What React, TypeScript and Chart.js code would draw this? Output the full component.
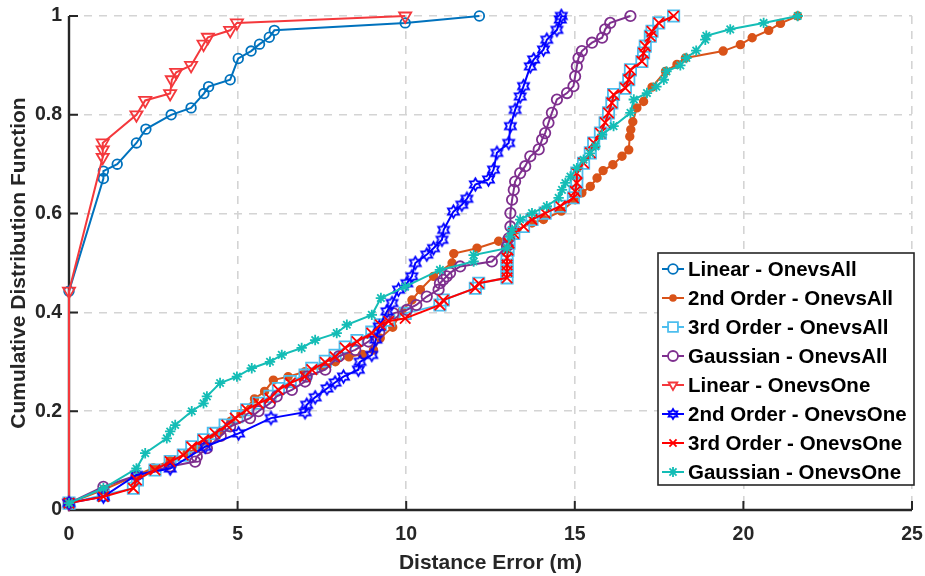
import React, { useEffect, useRef } from 'react';
import { Chart, registerables } from 'chart.js';

Chart.register(...registerables);

// ---------- data ----------
const xTicks = [0, 5, 10, 15, 20, 25];
const yTicks = [0, 0.2, 0.4, 0.6, 0.8, 1];
const xTitle = 'Distance Error (m)';
const yTitle = 'Cumulative Distribution Function';

const seriesLabels = [
  'Linear - OnevsAll',
  '2nd Order - OnevsAll',
  '3rd Order - OnevsAll',
  'Gaussian - OnevsAll',
  'Linear - OnevsOne',
  '2nd Order - OnevsOne',
  '3rd Order - OnevsOne',
  'Gaussian - OnevsOne',
];

const linOvA_x = [0, 0, 1.02, 1.02, 1.43, 2.0, 2.28, 3.03, 3.62, 4.0, 4.14, 4.78, 5.02, 5.4, 5.65, 5.94, 6.09, 9.97, 12.17];
const linOvA_y = [0.014, 0.443, 0.671, 0.686, 0.7, 0.743, 0.771, 0.8, 0.814, 0.843, 0.857, 0.871, 0.914, 0.929, 0.943, 0.957, 0.971, 0.986, 1.0];

const o2OvA_x = [0, 1.02, 2.0, 2.5, 3.0, 3.5, 3.8, 4.1, 4.5, 4.8, 5.1, 5.5, 5.8, 6.06, 6.5, 7.0, 7.5, 7.9, 8.3, 8.7, 9.03, 9.23, 9.6, 9.87, 10.17, 10.42, 10.81, 11.36, 11.41, 12.1, 12.74, 13.28, 13.73, 14.07, 14.6, 15.01, 15.21, 15.46, 15.66, 15.84, 16.13, 16.4, 16.6, 16.63, 16.66, 16.72, 16.84, 17.04, 17.29, 17.69, 18.03, 18.28, 19.4, 19.91, 20.26, 20.75, 21.1, 21.61];
const o2OvA_y = [0.014, 0.041, 0.07, 0.085, 0.1, 0.115, 0.125, 0.14, 0.16, 0.18, 0.195, 0.225, 0.24, 0.263, 0.27, 0.28, 0.29, 0.3, 0.31, 0.315, 0.324, 0.348, 0.37, 0.402, 0.425, 0.446, 0.473, 0.5, 0.519, 0.53, 0.544, 0.567, 0.581, 0.588, 0.605, 0.628, 0.642, 0.655, 0.672, 0.687, 0.699, 0.716, 0.729, 0.756, 0.77, 0.786, 0.814, 0.827, 0.856, 0.888, 0.902, 0.915, 0.929, 0.942, 0.956, 0.971, 0.985, 1.0];

const o3OvA_x = [0, 1.02, 1.91, 2.03, 2.55, 3.0, 3.39, 3.64, 3.99, 4.28, 4.63, 4.98, 5.27, 5.62, 5.96, 6.21, 6.56, 7.0, 7.2, 7.6, 7.89, 8.19, 8.54, 8.98, 9.23, 9.48, 9.97, 11.0, 11.1, 12.05, 12.15, 12.99, 12.99, 12.99, 12.99, 13.02, 13.05, 13.19, 13.48, 13.73, 14.12, 14.57, 14.96, 15.01, 15.06, 15.06, 15.26, 15.46, 15.56, 15.76, 15.9, 16.0, 16.1, 16.15, 16.5, 16.6, 16.65, 16.99, 17.04, 17.09, 17.24, 17.29, 17.49, 17.93];
const o3OvA_y = [0.014, 0.03, 0.044, 0.061, 0.081, 0.098, 0.111, 0.128, 0.142, 0.155, 0.172, 0.189, 0.203, 0.216, 0.23, 0.246, 0.26, 0.273, 0.287, 0.301, 0.313, 0.33, 0.343, 0.36, 0.375, 0.384, 0.398, 0.415, 0.425, 0.449, 0.459, 0.47, 0.483, 0.496, 0.51, 0.526, 0.54, 0.56, 0.574, 0.588, 0.601, 0.615, 0.632, 0.645, 0.662, 0.682, 0.702, 0.723, 0.743, 0.763, 0.784, 0.804, 0.824, 0.841, 0.854, 0.871, 0.891, 0.908, 0.925, 0.939, 0.959, 0.969, 0.986, 1.0];

const gaussOvA_x = [0, 1.02, 2.0, 3.0, 3.74, 3.79, 4.09, 4.5, 4.78, 5.37, 5.62, 5.96, 6.16, 6.61, 7.0, 7.05, 7.6, 8.0, 8.49, 8.88, 9.2, 9.62, 10.02, 10.3, 10.61, 10.96, 11.0, 11.1, 11.2, 11.3, 11.6, 12.54, 12.99, 13.04, 13.09, 13.09, 13.14, 13.19, 13.23, 13.38, 13.53, 13.68, 13.93, 14.03, 14.12, 14.22, 14.32, 14.47, 14.77, 14.96, 15.01, 15.06, 15.11, 15.21, 15.51, 15.81, 15.9, 16.05, 16.65];
const gaussOvA_y = [0.014, 0.047, 0.07, 0.088, 0.098, 0.108, 0.125, 0.15, 0.169, 0.186, 0.2, 0.216, 0.23, 0.243, 0.26, 0.27, 0.284, 0.311, 0.324, 0.341, 0.36, 0.398, 0.405, 0.415, 0.432, 0.446, 0.459, 0.466, 0.473, 0.48, 0.493, 0.503, 0.534, 0.55, 0.574, 0.601, 0.628, 0.648, 0.665, 0.682, 0.696, 0.716, 0.73, 0.75, 0.763, 0.784, 0.804, 0.831, 0.844, 0.858, 0.878, 0.898, 0.915, 0.929, 0.946, 0.956, 0.973, 0.986, 1.0];

const linOvO_x = [0, 0, 1.0, 1.0, 1.0, 2.0, 2.26, 3.0, 3.05, 3.18, 3.62, 3.99, 4.12, 4.78, 4.98, 9.97];
const linOvO_y = [0.014, 0.443, 0.714, 0.729, 0.743, 0.8, 0.829, 0.843, 0.871, 0.886, 0.9, 0.943, 0.957, 0.971, 0.986, 1.0];

const o2OvO_x = [0, 1.02, 2.0, 3.0, 4.04, 5.03, 5.99, 7.0, 7.05, 7.3, 7.65, 7.89, 8.14, 8.58, 8.63, 8.98, 9.1, 9.2, 9.43, 9.58, 9.77, 10.02, 10.17, 10.27, 10.61, 10.81, 11.06, 11.11, 11.4, 11.65, 11.8, 12.05, 12.44, 12.59, 12.69, 13.04, 13.09, 13.23, 13.38, 13.48, 13.68, 13.78, 14.07, 14.17, 14.47, 14.57, 14.6];
const o2OvO_y = [0.014, 0.027, 0.071, 0.084, 0.128, 0.155, 0.186, 0.198, 0.213, 0.228, 0.246, 0.258, 0.27, 0.284, 0.3, 0.314, 0.345, 0.371, 0.402, 0.419, 0.446, 0.459, 0.473, 0.5, 0.517, 0.53, 0.547, 0.567, 0.604, 0.618, 0.63, 0.659, 0.669, 0.689, 0.723, 0.743, 0.777, 0.81, 0.837, 0.858, 0.898, 0.912, 0.932, 0.952, 0.972, 0.993, 1.0];

const o3OvO_x = [0, 1.02, 1.91, 2.0, 2.55, 3.0, 3.39, 3.64, 3.99, 4.33, 4.68, 4.93, 5.27, 5.62, 5.96, 6.21, 6.56, 7.0, 7.2, 7.6, 7.89, 8.19, 8.54, 8.98, 9.23, 9.48, 9.97, 11.0, 11.1, 12.05, 12.15, 12.99, 12.99, 12.99, 12.99, 13.02, 13.05, 13.19, 13.48, 13.73, 14.12, 14.57, 14.96, 15.01, 15.06, 15.06, 15.26, 15.46, 15.56, 15.76, 15.9, 16.0, 16.1, 16.15, 16.5, 16.6, 16.65, 16.99, 17.04, 17.09, 17.24, 17.29, 17.49, 17.93];
const o3OvO_y = [0.014, 0.027, 0.044, 0.061, 0.081, 0.098, 0.111, 0.128, 0.142, 0.155, 0.172, 0.186, 0.203, 0.216, 0.226, 0.243, 0.257, 0.27, 0.284, 0.299, 0.31, 0.328, 0.341, 0.358, 0.375, 0.382, 0.388, 0.415, 0.425, 0.449, 0.459, 0.47, 0.483, 0.496, 0.51, 0.526, 0.54, 0.56, 0.574, 0.588, 0.601, 0.615, 0.632, 0.645, 0.662, 0.682, 0.702, 0.723, 0.743, 0.763, 0.784, 0.804, 0.824, 0.841, 0.854, 0.871, 0.891, 0.908, 0.925, 0.939, 0.959, 0.969, 0.986, 1.0];

const gaussOvO_x = [0, 1.02, 2.0, 2.26, 2.9, 3.0, 3.15, 3.64, 3.99, 4.09, 4.48, 4.98, 5.42, 5.96, 6.31, 6.9, 7.3, 7.94, 8.24, 8.98, 9.25, 9.97, 11.0, 12.0, 12.0, 12.99, 13.09, 13.14, 13.38, 13.73, 14.17, 14.52, 14.62, 14.72, 14.87, 15.06, 15.26, 15.45, 15.61, 15.81, 16.15, 16.65, 16.75, 17.14, 17.42, 17.64, 17.72, 18.13, 18.31, 18.6, 18.87, 18.9, 19.61, 20.6, 21.61];
const gaussOvO_y = [0.014, 0.044, 0.084, 0.115, 0.145, 0.159, 0.172, 0.2, 0.216, 0.23, 0.257, 0.27, 0.287, 0.3, 0.314, 0.328, 0.344, 0.358, 0.375, 0.395, 0.429, 0.452, 0.486, 0.503, 0.516, 0.53, 0.554, 0.567, 0.588, 0.601, 0.615, 0.632, 0.648, 0.662, 0.675, 0.692, 0.709, 0.722, 0.736, 0.76, 0.777, 0.804, 0.831, 0.844, 0.857, 0.871, 0.888, 0.9, 0.915, 0.93, 0.952, 0.96, 0.973, 0.986, 1.0];

const seriesX = [linOvA_x, o2OvA_x, o3OvA_x, gaussOvA_x, linOvO_x, o2OvO_x, o3OvO_x, gaussOvO_x];
const seriesY = [linOvA_y, o2OvA_y, o3OvA_y, gaussOvA_y, linOvO_y, o2OvO_y, o3OvO_y, gaussOvO_y];

// ---------- styles ----------
const seriesStyle = [
  { color: '#0072BD', marker: 'circle', r: 4.8, fill: false },
  { color: '#D95319', marker: 'dot', r: 3.8, fill: true },
  { color: '#4DBEEE', marker: 'square', r: 8, fill: false },
  { color: '#7E2F8E', marker: 'circle', r: 5.2, fill: false },
  { color: '#F4383C', marker: 'tridown', r: 7, fill: false },
  { color: '#0000FF', marker: 'hexagram', r: 6.3, fill: false },
  { color: '#FF0000', marker: 'x', r: 7.4, fill: false },
  { color: '#14BDB6', marker: 'star', r: 5.2, fill: false },
];

const FONT = "'Liberation Sans', Arial, Helvetica, sans-serif";
const AXIS_COLOR = '#262626';

function makeHexagram(color: string, r: number): HTMLCanvasElement {
  const size = Math.ceil(r * 2 + 4);
  const c = document.createElement('canvas');
  c.width = size;
  c.height = size;
  const g = c.getContext('2d')!;
  const cx = size / 2, cy = size / 2;
  const inner = r / Math.sqrt(3);
  g.beginPath();
  for (let i = 0; i < 12; i++) {
    const ang = -Math.PI / 2 + (i * Math.PI) / 6;
    const rr = i % 2 === 0 ? r : inner;
    const px = cx + Math.cos(ang) * rr;
    const py = cy + Math.sin(ang) * rr;
    if (i === 0) g.moveTo(px, py); else g.lineTo(px, py);
  }
  g.closePath();
  g.strokeStyle = color;
  g.lineWidth = 1.8;
  g.stroke();
  return c;
}

function drawMarker(ctx: CanvasRenderingContext2D, st: any, x: number, y: number, hex: HTMLCanvasElement) {
  const r = st.r;
  ctx.save();
  ctx.strokeStyle = st.color;
  ctx.fillStyle = st.color;
  ctx.lineWidth = 1.8;
  ctx.beginPath();
  switch (st.marker) {
    case 'circle':
      ctx.arc(x, y, r, 0, Math.PI * 2);
      ctx.fillStyle = '#fff';
      ctx.fill();
      ctx.stroke();
      break;
    case 'dot':
      ctx.arc(x, y, r, 0, Math.PI * 2);
      ctx.fill();
      break;
    case 'square': {
      const s = r * Math.SQRT1_2;
      ctx.rect(x - s, y - s, 2 * s, 2 * s);
      ctx.fillStyle = '#fff';
      ctx.fill();
      ctx.stroke();
      break;
    }
    case 'tridown': {
      for (let i = 0; i < 3; i++) {
        const a = Math.PI + (i * 2 * Math.PI) / 3;
        const px = x + Math.sin(a) * r;
        const py = y - Math.cos(a) * r;
        if (i === 0) ctx.moveTo(px, py); else ctx.lineTo(px, py);
      }
      ctx.closePath();
      ctx.fillStyle = '#fff';
      ctx.fill();
      ctx.stroke();
      break;
    }
    case 'x': {
      const d = r * Math.SQRT1_2;
      ctx.moveTo(x - d, y - d); ctx.lineTo(x + d, y + d);
      ctx.moveTo(x - d, y + d); ctx.lineTo(x + d, y - d);
      ctx.stroke();
      break;
    }
    case 'star': {
      const d = r * Math.SQRT1_2;
      ctx.moveTo(x - d, y - d); ctx.lineTo(x + d, y + d);
      ctx.moveTo(x - d, y + d); ctx.lineTo(x + d, y - d);
      ctx.moveTo(x, y - r); ctx.lineTo(x, y + r);
      ctx.stroke();
      break;
    }
    case 'hexagram':
      ctx.drawImage(hex, x - hex.width / 2, y - hex.height / 2);
      break;
  }
  ctx.restore();
}

export default function App() {
  const ref = useRef<HTMLCanvasElement | null>(null);

  useEffect(() => {
    if (!ref.current) return;
    const hex = makeHexagram('#0000FF', seriesStyle[5].r);
    const hexSmall = makeHexagram('#0000FF', 5);

    const datasets = seriesLabels.map((label, i) => {
      const st = seriesStyle[i];
      let pointStyle: any = 'circle';
      let rotation = 0;
      let bg: string = 'rgba(0,0,0,0)';
      if (st.marker === 'dot') { pointStyle = 'circle'; bg = st.color; }
      else if (st.marker === 'square') pointStyle = 'rect';
      else if (st.marker === 'tridown') { pointStyle = 'triangle'; rotation = 180; }
      else if (st.marker === 'x') pointStyle = 'crossRot';
      else if (st.marker === 'star') pointStyle = 'star';
      else if (st.marker === 'hexagram') pointStyle = hex;
      return {
        label,
        data: seriesX[i].map((x, k) => ({ x, y: seriesY[i][k] })),
        showLine: true,
        borderColor: st.color,
        backgroundColor: bg,
        borderWidth: 2,
        pointStyle,
        pointRotation: rotation,
        pointRadius: st.r,
        pointBorderWidth: 1.8,
        pointBorderColor: st.color,
        pointBackgroundColor: bg,
        pointHoverRadius: st.r,
        tension: 0,
        clip: false,
        order: 7 - i,
      };
    });

    const axesPlugin = {
      id: 'matlabAxes',
      beforeDatasetsDraw(chart: any) {
        const { ctx, chartArea } = chart;
        const { left, right, top, bottom } = chartArea;
        ctx.save();
        ctx.strokeStyle = AXIS_COLOR;
        ctx.lineWidth = 2.4;
        ctx.beginPath();
        ctx.moveTo(left, top);
        ctx.lineTo(left, bottom);
        ctx.lineTo(right, bottom);
        ctx.stroke();
        ctx.lineWidth = 2;
        ctx.beginPath();
        for (const v of yTicks) {
          const py = chart.scales.y.getPixelForValue(v);
          ctx.moveTo(left, py);
          ctx.lineTo(left + 9, py);
        }
        for (const v of xTicks) {
          const px = chart.scales.x.getPixelForValue(v);
          ctx.moveTo(px, bottom);
          ctx.lineTo(px, bottom - 9);
        }
        ctx.stroke();
        ctx.restore();
      },
    };

    const legendPlugin = {
      id: 'insideLegend',
      afterDatasetsDraw(chart: any) {
        const { ctx, chartArea } = chart;
        const bx = chartArea.right - 254;
        const by = 253;
        const bw = 256;
        const bh = 232;
        ctx.save();
        ctx.fillStyle = '#ffffff';
        ctx.fillRect(bx, by, bw, bh);
        ctx.strokeStyle = '#262626';
        ctx.lineWidth = 1.6;
        ctx.strokeRect(bx, by, bw, bh);
        ctx.font = `bold 20.5px ${FONT}`;
        ctx.textBaseline = 'middle';
        ctx.textAlign = 'left';
        seriesLabels.forEach((label, i) => {
          const st = seriesStyle[i];
          const cy = by + 16 + i * 29;
          ctx.strokeStyle = st.color;
          ctx.lineWidth = 2;
          ctx.beginPath();
          ctx.moveTo(bx + 4, cy);
          ctx.lineTo(bx + 26, cy);
          ctx.stroke();
          const small = { ...st, r: Math.min(st.r, st.marker === 'square' ? 7 : 5) };
          drawMarker(ctx, small, bx + 15, cy, hexSmall);
          ctx.fillStyle = '#000';
          ctx.fillText(label, bx + 30, cy + 1);
        });
        ctx.restore();
      },
    };

    const tickFont = { family: FONT, size: 19.5, weight: 'bold' as const };
    const titleFont = { family: FONT, size: 21, weight: 'bold' as const };

    const chart = new Chart(ref.current, {
      type: 'scatter',
      data: { datasets: datasets as any },
      options: {
        animation: false,
        responsive: true,
        maintainAspectRatio: false,
        events: [],
        layout: { padding: { left: 0, right: 13, top: 16, bottom: 0 } },
        plugins: { legend: { display: false }, tooltip: { enabled: false } },
        scales: {
          x: {
            type: 'linear',
            min: 0,
            max: 25,
            afterBuildTicks: (s: any) => { s.ticks = xTicks.map((v) => ({ value: v })); },
            afterFit: (s: any) => { s.height = 66; s.paddingLeft = 0; s.paddingRight = 0; },
            grid: { color: '#d4d4d4', lineWidth: 1.6, drawTicks: false },
            border: { display: false, dash: [8, 7] },
            ticks: { padding: 13, color: AXIS_COLOR, font: tickFont, callback: (v: any) => String(v) },
            title: { display: true, text: xTitle, color: AXIS_COLOR, font: titleFont, padding: { top: 0, bottom: 0 } },
          },
          y: {
            type: 'linear',
            min: 0,
            max: 1,
            afterBuildTicks: (s: any) => { s.ticks = yTicks.map((v) => ({ value: v })); },
            afterFit: (s: any) => { s.width = 69; s.paddingTop = 0; s.paddingBottom = 0; },
            grid: { color: '#d4d4d4', lineWidth: 1.6, drawTicks: false },
            border: { display: false, dash: [8, 7] },
            ticks: { padding: 7, color: AXIS_COLOR, font: tickFont, callback: (v: any) => String(Math.round(v * 10) / 10) },
            title: { display: true, text: yTitle, color: AXIS_COLOR, font: titleFont, padding: { top: 7, bottom: 0 } },
          },
        },
      },
      plugins: [axesPlugin, legendPlugin],
    });

    return () => chart.destroy();
  }, []);

  return (
    <div style={{ position: 'fixed', left: 0, top: 0, width: 925, height: 576, background: '#fff' }}>
      <canvas ref={ref} />
    </div>
  );
}
